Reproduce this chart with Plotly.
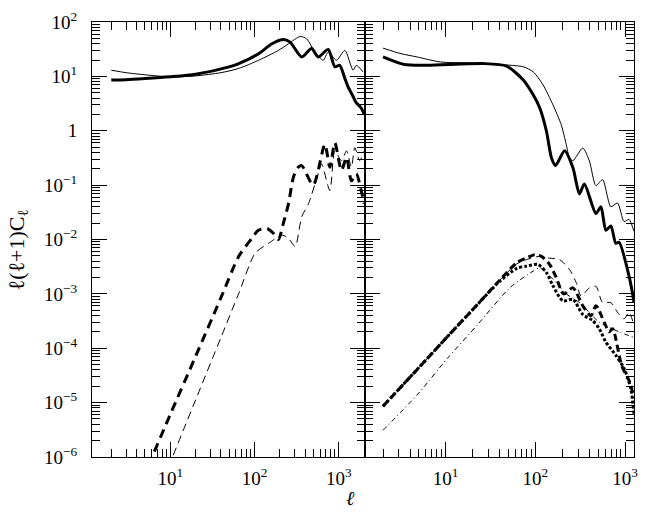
import plotly.graph_objects as go

# ---------------- Left panel data ----------------
lL_thin = [2, 3, 5, 10, 20, 40, 65, 112, 193, 253, 347, 415, 521, 653, 748, 940, 1177, 1475, 1612, 1932]
CL_thin = [13.0, 11.7, 10.7, 9.8, 10.2, 11.7, 14.0, 19.8, 30.2, 39.8, 54.1, 49.0, 28.0, 19.8, 28.0, 19.8, 30.1, 13.0, 16.0, 12.1]

lL_thick = [2, 3, 5, 10, 20, 50, 65, 112, 161, 220, 264, 363, 475, 569, 748, 897, 1025, 1177, 1283, 1475, 1612, 1842, 2000]
CL_thick = [8.57, 8.71, 9.12, 9.84, 10.96, 14.96, 17.2, 26.2, 39.8, 47.6, 42.7, 22.7, 32.4, 22.7, 31.3, 15.0, 16.0, 9.2, 6.46, 4.27, 3.24, 2.62, 1.98]

lL_dash_thick = [5.5, 10, 20, 40, 65, 93, 111, 140, 168, 192, 220, 253, 289, 331, 363, 497, 683, 782, 897, 1074, 1233, 1410, 1612, 1842, 2000]
CL_dash_thick = [6.92e-7, 6.03e-6, 7.08e-5, 8.51e-4, 4.90e-3, 1.05e-2, 1.48e-2, 1.60e-2, 1.29e-2, 1.0e-2, 2.0e-2, 4.57e-2,
                 0.140, 0.214, 0.229, 0.100, 0.562, 0.214, 0.603, 0.186, 0.324, 0.120, 0.162, 0.0794, 0.0457]

lL_dash_thin = [9.5, 20, 40, 65, 102, 147, 211, 253, 303, 363, 437, 569, 624, 782, 897, 1074, 1233, 1410, 1546, 1770, 2000]
CL_dash_thin = [6.46e-7, 1.12e-5, 1.58e-4, 1.02e-3, 5.62e-3, 8.51e-3, 1.20e-2, 1.05e-2, 7.41e-3, 2.63e-2, 4.57e-2,
                0.162, 0.245, 0.0794, 0.427, 0.282, 0.427, 0.214, 0.490, 0.282, 0.427]

# ---------------- Right panel data ----------------
lR_thin = [2, 3.16, 4.84, 8.75, 17.3, 40.4, 73.3, 94.6, 122, 157, 194, 221, 240, 262, 338, 400, 474, 562, 695, 824, 975, 1107, 1259]
CR_thin = [33.1, 26.2, 22.7, 18.4, 17.7, 16.5, 15.0, 12.1, 6.95, 3.0, 1.30, 0.56, 0.32, 0.28, 0.48, 0.28, 0.098, 0.126,
           0.040, 0.047, 0.0214, 0.0234, 0.0141]

lR_thick = [2, 3.45, 6.24, 26.5, 47.9, 73.3, 94.6, 112, 133, 151, 168, 212, 262, 310, 352, 474, 538, 612, 695, 789, 859, 1107, 1208, 1259]
CR_thick = [22.8, 16.5, 16.0, 17.2, 15.4, 8.57, 4.57, 2.62, 0.98, 0.32, 0.23, 0.43, 0.21, 0.069, 0.105, 0.030, 0.040,
            0.0148, 0.0178, 0.0085, 0.0089, 0.00214, 0.00105, 0.00069]

lR_dash_thick = [2, 5, 10, 20, 40, 62, 87, 98, 117, 144, 171, 206, 262, 338, 418, 474, 586, 665, 726, 918, 1135, 1259]
CR_dash_thick = [8.57e-6, 4.37e-5, 1.51e-4, 5.13e-4, 1.78e-3, 3.72e-3, 4.90e-3, 5.25e-3, 4.90e-3, 3.47e-3, 2.0e-3,
                 1.0e-3, 1.29e-3, 6.03e-4, 3.98e-4, 6.03e-4, 3.02e-4, 2.0e-4, 2.29e-4, 4.79e-5, 2.34e-5, 1.20e-5]

lR_dot_thick = [2, 5, 10, 20, 40, 62, 80, 107, 133, 157, 203, 262, 338, 435, 515, 612, 789, 975, 1156, 1259]
CR_dot_thick = [8.57e-6, 4.37e-5, 1.51e-4, 5.13e-4, 1.70e-3, 2.95e-3, 3.24e-3, 3.47e-3, 2.45e-3, 1.41e-3, 7.41e-4,
                7.94e-4, 4.17e-4, 3.24e-4, 2.29e-4, 1.29e-4, 7.41e-5, 4.27e-5, 1.86e-5, 6.03e-6]

lR_dash_thin = [2, 5, 10, 20, 40, 62, 87, 112, 139, 186, 240, 285, 324, 400, 474, 562, 695, 824, 975, 1107, 1259]
CR_dash_thin = [8.57e-6, 4.37e-5, 1.51e-4, 5.13e-4, 1.78e-3, 3.55e-3, 4.47e-3, 4.90e-3, 4.57e-3, 4.27e-3, 2.82e-3,
                1.62e-3, 9.12e-4, 1.29e-3, 1.38e-3, 6.92e-4, 6.92e-4, 4.57e-4, 3.47e-4, 4.57e-4, 2.63e-4]

lR_dashdot = [2, 4.84, 10.4, 22.3, 52.1, 94.6, 112, 157, 221, 310, 515, 859, 1259]
CR_dashdot = [3.09e-6, 1.41e-5, 6.46e-5, 2.63e-4, 1.30e-3, 2.63e-3, 3.02e-3, 1.86e-3, 1.0e-3, 6.92e-4, 3.02e-4, 2.0e-4, 1.58e-4]

# ---------------- Tick labels ----------------
x_tickvals = [10, 100, 1000]
x_ticktext = ["10<sup>1</sup>", "10<sup>2</sup>", "10<sup>3</sup>"]
y_tickvals = [1e-6, 1e-5, 1e-4, 1e-3, 1e-2, 1e-1, 1, 10, 100]
y_ticktext = ["10<sup>\u22126</sup>", "10<sup>\u22125</sup>", "10<sup>\u22124</sup>", "10<sup>\u22123</sup>",
              "10<sup>\u22122</sup>", "10<sup>\u22121</sup>", "1", "10<sup>1</sup>", "10<sup>2</sup>"]
minor_vals = [k * 10.0 ** d for d in range(-7, 4) for k in range(2, 10)]

FONT = "Liberation Serif"
fig = go.Figure()

def add(x, y, width, dash, xa, ya):
    fig.add_trace(go.Scatter(x=x, y=y, mode="lines", xaxis=xa, yaxis=ya,
                             line=dict(color="black", width=width, dash=dash, shape="spline", smoothing=0.7),
                             showlegend=False, hoverinfo="skip"))

add(lL_thin, CL_thin, 1, "solid", "x", "y")
add(lL_thick, CL_thick, 3, "solid", "x", "y")
add(lL_dash_thin, CL_dash_thin, 1, "8px,5px", "x", "y")
add(lL_dash_thick, CL_dash_thick, 3, "9px,6px", "x", "y")

add(lR_thin, CR_thin, 1, "solid", "x2", "y2")
add(lR_thick, CR_thick, 3, "solid", "x2", "y2")
add(lR_dash_thin, CR_dash_thin, 1, "7px,5px", "x2", "y2")
add(lR_dashdot, CR_dashdot, 1, "5px,3px,1px,3px", "x2", "y2")
add(lR_dot_thick, CR_dot_thick, 3, "3px,2px", "x2", "y2")
add(lR_dash_thick, CR_dash_thick, 3, "7px,4px", "x2", "y2")

split = (367 - 92) / 546.0

common = dict(type="log", showgrid=False, zeroline=False, showline=True, linecolor="black", linewidth=1,
              mirror="allticks", ticks="inside", ticklen=15, tickwidth=1, tickcolor="black",
              tickfont=dict(family=FONT, size=19, color="black"),
              minor=dict(tickmode="array", tickvals=minor_vals, ticks="inside", ticklen=8, tickwidth=1,
                         tickcolor="black", showgrid=False))

fig.update_layout(
    width=647, height=515, paper_bgcolor="white", plot_bgcolor="white",
    margin=dict(l=92, r=9, t=16, b=58),
    xaxis=dict(domain=[0, split], range=[0.0725, 3.31], tickmode="array", tickvals=x_tickvals,
               ticktext=x_ticktext, anchor="y", ticklabelstandoff=4, **common),
    xaxis2=dict(domain=[split, 1], range=[0.1, 3.1], tickmode="array", tickvals=x_tickvals,
                ticktext=x_ticktext, anchor="y2", ticklabelstandoff=4, **common),
    yaxis=dict(domain=[0, 1], range=[-6, 2], tickmode="array", tickvals=y_tickvals, ticktext=y_ticktext,
               anchor="x", ticklabelstandoff=10, **common),
    yaxis2=dict(domain=[0, 1], range=[-6, 2], tickmode="array", tickvals=y_tickvals, ticktext=y_ticktext,
                anchor="x2", showticklabels=False, **common),
    annotations=[
        dict(text="\u2113", x=(352 - 92) / 546.0, y=(457 - 499) / 441.0, xref="paper", yref="paper",
             showarrow=False, font=dict(family=FONT, size=20, color="black", style="italic"),
             xanchor="center", yanchor="middle"),
        dict(text="\u2113(\u2113+1)C<sub>\u2113</sub>", x=(17 - 92) / 546.0, y=(457 - 247) / 441.0,
             xref="paper", yref="paper",
             showarrow=False, textangle=-90, font=dict(family=FONT, size=22, color="black"),
             xanchor="center", yanchor="middle"),
    ],
)

fig.write_html("out.html")
